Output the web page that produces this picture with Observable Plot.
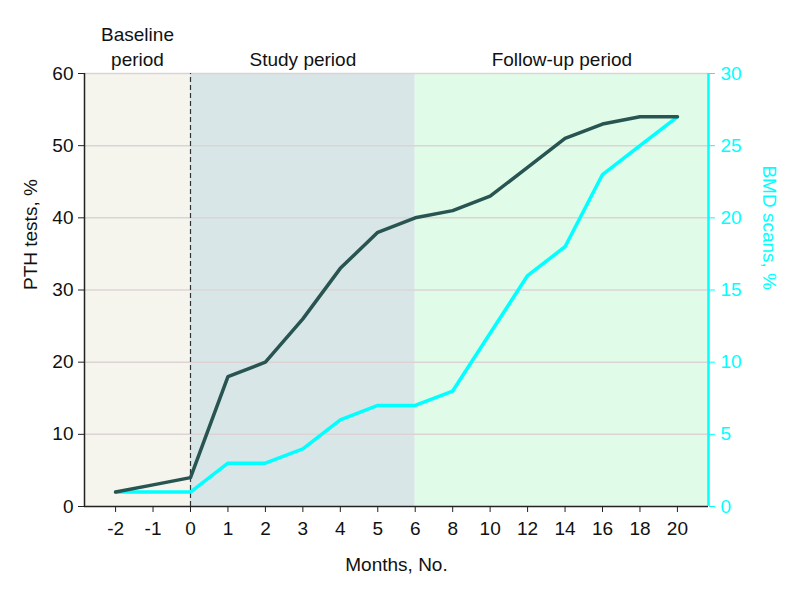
<!DOCTYPE html>
<html>
<head>
<meta charset="utf-8">
<script src="https://cdn.jsdelivr.net/npm/d3@7"></script>
<script src="https://cdn.jsdelivr.net/npm/@observablehq/plot@0.6"></script>
<style>
  html, body { margin: 0; padding: 0; background: #fff; }
  #chart svg { display: block; }
</style>
</head>
<body>
<div id="chart"></div>
<script>
// ---- data ----
const months = [-2, -1, 0, 1, 2, 3, 4, 5, 6, 8, 10, 12, 14, 16, 18, 20];
const pthTests = [2, 3, 4, 18, 20, 26, 33, 38, 40, 41, 43, 47, 51, 53, 54, 54];   // left axis, %
const bmdScans = [1, 1, 1, 3, 3, 4, 6, 7, 7, 8, 12, 16, 18, 23, 25, 27];          // right axis, %
const pthTicks = [0, 10, 20, 30, 40, 50, 60];
const bmdTicks = [0, 5, 10, 15, 20, 25, 30];
const periodNames = ["Baseline\nperiod", "Study period", "Follow-up period"];
const periodStartMonth = [null, 0, 6];
const periodEndMonth = [0, 6, null];
const periodColors = ["#f5f5ee", "#d8e6e8", "#e0fce8"];
const studyStartMonth = 0;

// ---- derived ----
const dark = "#285451";
const cyan = "#00ffff";
const ratio = 60 / 30; // left max / right max
const idx = m => months.indexOf(m);
const xDomain = [-0.83, months.length - 1 + 0.83];
const points = months.map((m, i) => ({i, m, pth: pthTests[i], bmd: bmdScans[i] * ratio}));
const periods = periodNames.map((name, k) => ({
  name,
  x1: periodStartMonth[k] === null ? xDomain[0] : idx(periodStartMonth[k]),
  x2: periodEndMonth[k] === null ? xDomain[1] : idx(periodEndMonth[k]),
  fill: periodColors[k]
}));
periods.forEach(p => p.xc = (p.x1 + p.x2) / 2);

const FONT = "'Liberation Sans', Arial, sans-serif";
const FS = 19;

const chart = Plot.plot({
  width: 794,
  height: 591,
  marginLeft: 84,
  marginRight: 86,
  marginTop: 73,
  marginBottom: 85,
  style: {fontFamily: FONT, fontSize: FS + "px", background: "#fff", color: "#111"},
  x: {type: "linear", domain: xDomain},
  y: {domain: [0, 60]},
  marks: [
    Plot.rectX(periods, {x1: "x1", x2: "x2", y1: 0, y2: 60, fill: "fill"}),
    Plot.ruleY(pthTicks.filter(d => d > 0), {stroke: "#dcd4d4", strokeWidth: 1.5}),
    Plot.ruleX([idx(studyStartMonth)], {y1: 0, y2: 60, stroke: "#333", strokeDasharray: "5,3", strokeWidth: 1.2}),
    Plot.line(points, {x: "i", y: "bmd", stroke: cyan, strokeWidth: 3.5}),
    Plot.line(points, {x: "i", y: "pth", stroke: dark, strokeWidth: 3.5}),
    Plot.ruleY([0], {stroke: "#222", strokeWidth: 1.5}),
    Plot.ruleX([xDomain[0]], {y1: 0, y2: 60, stroke: "#222", strokeWidth: 1.5}),
    Plot.ruleX([xDomain[1]], {y1: 0, y2: 60, stroke: cyan, strokeWidth: 2.5}),
    Plot.axisX({
      ticks: months.map((m, i) => i),
      tickFormat: i => months[i] < 0 ? "-" + Math.abs(months[i]) : String(months[i]),
      tickSize: 6, tickPadding: 9, fontSize: FS, stroke: "#222", label: null
    }),
    Plot.axisY({
      anchor: "left", ticks: pthTicks, tickSize: 6, tickPadding: 5, fontSize: FS,
      stroke: "#222", label: null
    }),
    Plot.axisY({
      anchor: "right", ticks: bmdTicks.map(d => d * ratio), tickFormat: d => d / ratio,
      tickSize: 6, tickPadding: 6, fontSize: FS, color: cyan, stroke: cyan, label: null
    }),
    Plot.text(periods, {x: "xc", frameAnchor: "top", dy: -8, lineAnchor: "bottom", lineHeight: 1.3,
      text: "name", fontSize: FS, fill: "#111"}),
    Plot.text(["PTH tests, %"], {frameAnchor: "left", dx: -54, rotate: -90, fontSize: FS, fill: "#111"}),
    Plot.text(["BMD scans, %"], {frameAnchor: "right", dx: 61, rotate: 90, fontSize: FS, fill: cyan}),
    Plot.text(["Months, No."], {frameAnchor: "bottom", dy: 64, fontSize: FS, fill: "#111"})
  ]
});
document.getElementById("chart").append(chart);
</script>
</body>
</html>
